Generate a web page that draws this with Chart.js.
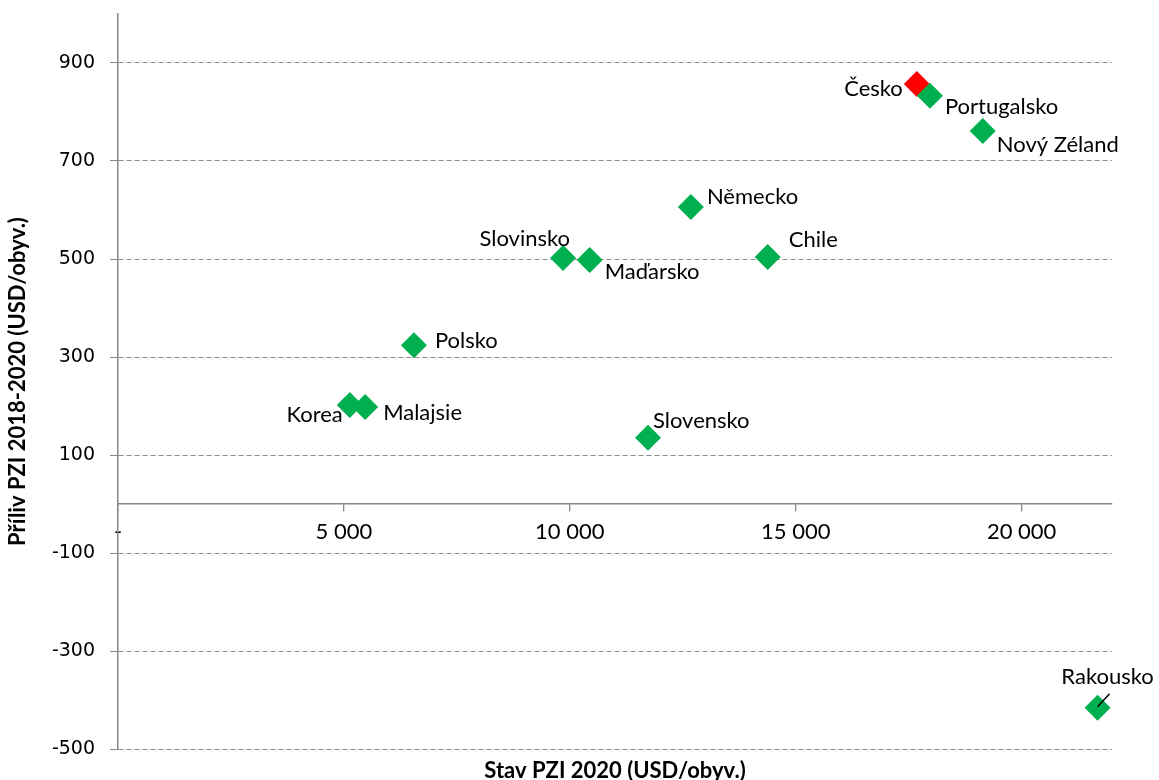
<!DOCTYPE html>
<html>
<head>
<meta charset="utf-8">
<script src="https://cdn.jsdelivr.net/npm/chart.js@4"></script>
<style>
  html, body { margin: 0; padding: 0; background: #fff; }
  #wrap { width: 1159px; height: 780px; }
</style>
</head>
<body>
<div id="wrap"><canvas id="myChart"></canvas></div>
<script>
// data
const countries = ["Česko", "Portugalsko", "Nový Zéland", "Německo", "Chile", "Slovinsko", "Maďarsko", "Polsko", "Korea", "Malajsie", "Slovensko", "Rakousko"];
const stock2020 = [17680, 17970, 19140, 12680, 14380, 9850, 10440, 6550, 5130, 5470, 11730, 21680];
const inflow2018to2020 = [857, 833, 761, 606, 504, 502, 498, 324, 202, 198, 135, -416];
const xTickValues = [0, 5000, 10000, 15000, 20000];
const yTickValues = [-500, -300, -100, 100, 300, 500, 700, 900];
const highlight = "Česko";

// where each name sits next to its marker: [dx, dy, align]
const labelOffsets = [
  [-14, 5, "right"], [15, 11, "left"], [14, 14, "left"], [16, -10, "left"],
  [21, -17, "left"], [7, -19, "right"], [15, 12, "left"], [21, -4, "left"],
  [-7, 10, "right"], [18, 6, "left"], [5, -17, "left"], [10, -31, "center"],
];

const GREEN = "#00B050";
const RED = "#FF0000";
const AXIS = "#868686";
const labelFont = "22px Lato";

const fmt = (v) => (v === 0 ? "-" : String(v).replace(/\B(?=(\d{3})+(?!\d))/g, " "));

const pointLabels = {
  id: "pointLabels",
  afterDatasetsDraw(chart) {
    const ctx = chart.ctx;
    const meta = chart.getDatasetMeta(0);
    ctx.save();
    ctx.font = labelFont;
    ctx.fillStyle = "#000";
    ctx.textBaseline = "middle";
    meta.data.forEach((pt, i) => {
      const [dx, dy, align] = labelOffsets[i];
      ctx.textAlign = align;
      ctx.fillText(countries[i], pt.x + dx, pt.y + dy);
      if (countries[i] === "Rakousko") {
        ctx.strokeStyle = "#000";
        ctx.lineWidth = 1.5;
        ctx.beginPath();
        ctx.moveTo(pt.x, pt.y - 1);
        ctx.lineTo(pt.x + 12, pt.y - 14);
        ctx.stroke();
      }
    });
    // x axis title
    const area = chart.chartArea;
    ctx.font = "bold 22px Lato";
    ctx.textAlign = "center";
    ctx.fillText("Stav PZI 2020 (USD/obyv.)", (area.left + area.right) / 2, 771);
    ctx.restore();
  },
};

new Chart(document.getElementById("myChart").getContext("2d"), {
  type: "scatter",
  data: {
    datasets: [
      {
        label: "PZI",
        data: countries.map((c, i) => ({ x: stock2020[i], y: inflow2018to2020[i] })),
        backgroundColor: countries.map((c) => (c === highlight ? RED : GREEN)),
        pointStyle: "rectRot",
        pointRadius: 13,
        pointHoverRadius: 13,
        borderWidth: 0,
      },
    ],
  },
  options: {
    responsive: true,
    maintainAspectRatio: false,
    animation: false,
    layout: { padding: { top: 14, right: 47, bottom: 31, left: 0 } },
    plugins: { legend: { display: false }, tooltip: { enabled: false } },
    scales: {
      x: {
        type: "linear",
        min: 0,
        max: 22000,
        position: { y: 0 },
        afterBuildTicks: (axis) => { axis.ticks = xTickValues.map((v) => ({ value: v })); },
        afterFit: (scale) => { scale.paddingLeft = 0; scale.paddingRight = 0; scale.paddingTop = 0; scale.paddingBottom = 0; },
        grid: { drawOnChartArea: false, color: AXIS, tickLength: 7, lineWidth: 1.3 },
        border: { color: AXIS, width: 1.5 },
        ticks: { autoSkip: false, maxRotation: 0, padding: 8, color: "#000", font: { family: "Lato", size: 22 }, callback: fmt },
      },
      y: {
        type: "linear",
        min: -500,
        max: 1000,
        afterBuildTicks: (axis) => { axis.ticks = yTickValues.map((v) => ({ value: v })); },
        afterFit: (scale) => { scale.width = 118; scale.paddingTop = 0; scale.paddingBottom = 0; },
        grid: { color: "#8c8c8c", lineWidth: 1, tickLength: 8, tickColor: AXIS },
        border: { color: AXIS, width: 1.5, dash: [5, 3] },
        ticks: { padding: 15, color: "#000", font: { family: "DejaVu Sans", size: 19 } },
        title: {
          display: true,
          text: "Příliv PZI 2018-2020 (USD/obyv.)",
          color: "#000",
          font: { family: "Lato", size: 22, weight: "bold" },
          padding: { top: 5, bottom: 0 },
        },
      },
    },
  },
  plugins: [pointLabels],
});
</script>
</body>
</html>
